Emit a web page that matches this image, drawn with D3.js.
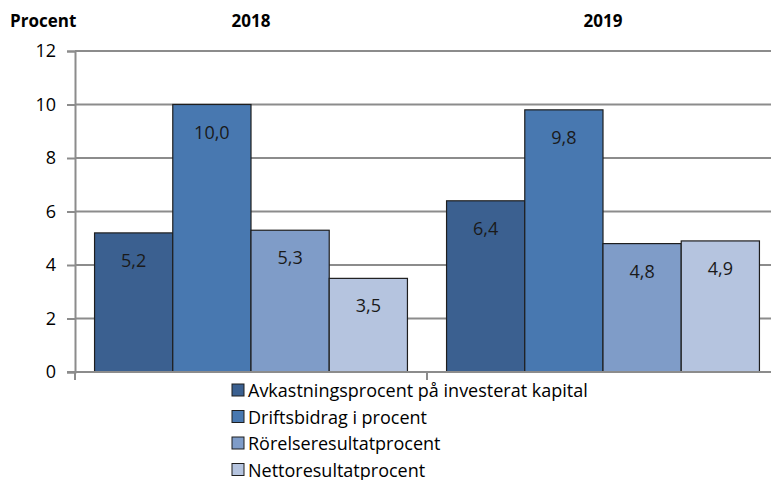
<!DOCTYPE html>
<html>
<head>
<meta charset="utf-8">
<script src="https://cdn.jsdelivr.net/npm/d3@7"></script>
<style>
	body { margin: 0; background: #fff; }
	svg text { font-family: "Open Sans", "Noto Sans", sans-serif; fill: #000; }
</style>
</head>
<body>
<div id="stage"></div>
<script>
var years = ['2018', '2019'];
var series = ['Avkastningsprocent på investerat kapital', 'Driftsbidrag i procent', 'Rörelseresultatprocent', 'Nettoresultatprocent'];
var values2018 = [5.2, 10.0, 5.3, 3.5];
var values2019 = [6.4, 9.8, 4.8, 4.9];
var yTicks = [0, 2, 4, 6, 8, 10, 12];
var colors = ['#3b6090', '#4878b0', '#7f9cc8', '#b5c4df'];

var width = 771, height = 480;
var data = [values2018, values2019];

var svg = d3.select('#stage').append('svg')
	.attr('width', width)
	.attr('height', height);

var x = d3.scaleBand().domain(years).range([75, 779]).paddingInner(0).paddingOuter(0);
var inner = d3.scaleBand().domain(d3.range(series.length)).range([0, x.bandwidth()]).paddingOuter(0.25).paddingInner(0);
var y = d3.scaleLinear().domain([0, 12]).range([372, 51]);

// gridlines
svg.append('g')
	.selectAll('line')
	.data(yTicks.filter(function(d) { return d > 0; }))
	.enter()
	.append('line')
	.attr('x1', 75).attr('x2', width)
	.attr('y1', function(d) { return y(d); })
	.attr('y2', function(d) { return y(d); })
	.attr('stroke', '#8c8c8c')
	.attr('stroke-width', 2);

// y axis
var yAxis = svg.append('g')
	.attr('transform', 'translate(75,0)')
	.call(d3.axisLeft(y).tickValues(yTicks).tickSize(8).tickPadding(11).tickFormat(d3.format('d')));
yAxis.select('.domain').attr('stroke', '#8c8c8c').attr('stroke-width', 2);
yAxis.selectAll('.tick line').attr('stroke', '#8c8c8c').attr('stroke-width', 2);
yAxis.selectAll('.tick text').style('font-size', '18px').attr('fill', '#000');

// bars
var groups = svg.selectAll('g.year')
	.data(data)
	.enter()
	.append('g')
	.attr('class', 'year')
	.attr('transform', function(d, i) { return 'translate(' + x(years[i]) + ',0)'; });

groups.selectAll('rect')
	.data(function(d) { return d; })
	.enter()
	.append('rect')
	.attr('x', function(d, i) { return inner(i); })
	.attr('y', function(d) { return y(d); })
	.attr('width', inner.bandwidth())
	.attr('height', function(d) { return y(0) - y(d); })
	.attr('fill', function(d, i) { return colors[i]; })
	.attr('stroke', '#1e1e1e')
	.attr('stroke-width', 1.2);

groups.selectAll('text.val')
	.data(function(d) { return d; })
	.enter()
	.append('text')
	.attr('class', 'val')
	.attr('x', function(d, i) { return inner(i) + inner.bandwidth() / 2; })
	.attr('y', function(d) { return y(d) + 34; })
	.attr('text-anchor', 'middle')
	.style('font-size', '18px')
	.style('fill', '#1a1a1a')
	.text(function(d) { return d3.format('.1f')(d).replace('.', ','); });

// x axis
var xAxis = svg.append('g')
	.attr('transform', 'translate(0,372)');
xAxis.append('line')
	.attr('x1', 67).attr('x2', width)
	.attr('stroke', '#8c8c8c').attr('stroke-width', 2);
xAxis.selectAll('line.tick')
	.data([75, x('2019')])
	.enter()
	.append('line')
	.attr('x1', function(d) { return d; })
	.attr('x2', function(d) { return d; })
	.attr('y1', 0).attr('y2', 8)
	.attr('stroke', '#8c8c8c').attr('stroke-width', 2);

// year labels on top
svg.selectAll('text.yr')
	.data(years)
	.enter()
	.append('text')
	.attr('class', 'yr')
	.attr('x', function(d) { return x(d) + x.bandwidth() / 2; })
	.attr('y', 27)
	.attr('text-anchor', 'middle')
	.style('font-size', '17px')
	.style('font-weight', 'bold')
	.text(function(d) { return d; });

svg.append('text')
	.attr('x', 10)
	.attr('y', 27)
	.style('font-size', '17px')
	.style('font-weight', 'bold')
	.text('Procent');

// legend
var legend = svg.append('g').attr('transform', 'translate(232,0)');
var rows = legend.selectAll('g')
	.data(series)
	.enter()
	.append('g')
	.attr('transform', function(d, i) { return 'translate(0,' + (390 + i * 26.5) + ')'; });
rows.append('rect')
	.attr('x', 0).attr('y', -6)
	.attr('width', 12).attr('height', 12)
	.attr('fill', function(d, i) { return colors[i]; })
	.attr('stroke', '#1e1e1e')
	.attr('stroke-width', 1);
rows.append('text')
	.attr('x', 16)
	.attr('y', 7)
	.style('font-size', '18px')
	.text(function(d) { return d; });
</script>
</body>
</html>
